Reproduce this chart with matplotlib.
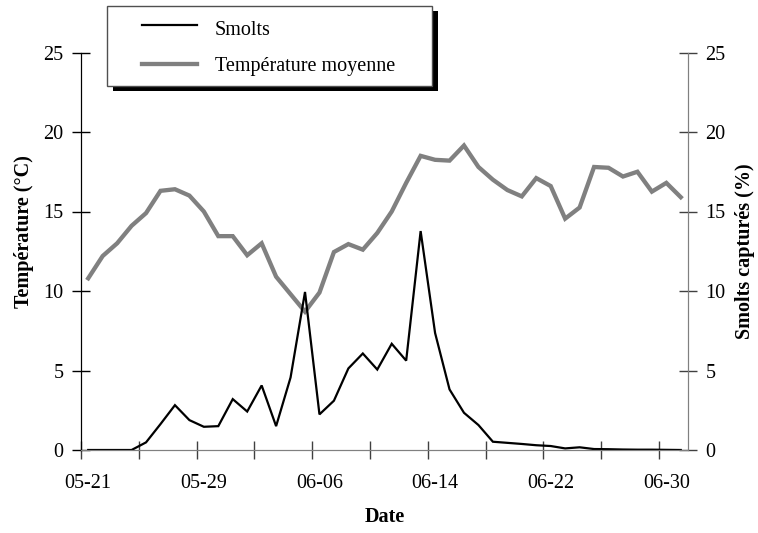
import numpy as np
import pandas as pd
import matplotlib
matplotlib.use('Agg')
import matplotlib.pyplot as plt
from matplotlib.patches import Rectangle
from matplotlib.lines import Line2D

W, H = 758, 533

# one value per day, 05-21 -> 07-01
days = pd.date_range('2000-05-21', '2000-07-01').strftime('%m-%d').tolist()

temperature = [10.8, 12.2, 13.0, 14.1, 14.9, 16.3, 16.4, 16.0, 15.0, 13.45,
               13.45, 12.25, 13.0, 10.9, 9.8, 8.7, 9.9, 12.45, 12.95, 12.6,
               13.65, 15.0, 16.8, 18.5, 18.25, 18.2, 19.15, 17.8, 17.0, 16.35,
               15.95, 17.1, 16.6, 14.55, 15.25, 17.8, 17.75, 17.2, 17.5, 16.25,
               16.8, 15.9]

smolts = [0.0, 0.0, 0.0, 0.0, 0.48, 1.63, 2.82, 1.88, 1.46, 1.5,
          3.2, 2.42, 4.06, 1.5, 4.56, 9.94, 2.24, 3.1, 5.13, 6.07,
          5.06, 6.68, 5.62, 13.77, 7.36, 3.81, 2.34, 1.57, 0.52, 0.45,
          0.38, 0.3, 0.25, 0.1, 0.17, 0.06, 0.05, 0.03, 0.02, 0.02,
          0.01, 0.0]

label_days = ['05-21', '05-29', '06-06', '06-14', '06-22', '06-30']

FONT = 'Liberation Serif'
FS = 14.5
GRAY = '#808080'


def fx(x):
    return x / W


def fy(y):
    return 1 - y / H


plt.rcParams['font.family'] = FONT
plt.rcParams['font.size'] = FS

fig = plt.figure(figsize=(W / 100, H / 100), dpi=100)
ax = fig.add_axes([fx(81), fy(450), (688 - 81) / W, (450 - 52.5) / H])
ax2 = ax.twinx()

x = np.arange(len(days)) + 0.5
ax.plot(x, temperature, color=GRAY, lw=3.1, solid_joinstyle='miter', zorder=2)
ax.plot(x, smolts, color='black', lw=1.6, solid_joinstyle='miter', zorder=3)

ax.set_xlim(0, len(days))
ax.set_ylim(0, 25)
ax2.set_ylim(0, 25)

# category boundaries every 4 days, labels every 8 days at day centres
ax.set_xticks(range(0, len(days), 4))
ax.set_xticklabels([])
ax.set_xticks([days.index(d) + 0.5 for d in label_days], minor=True)
ax.set_xticklabels(label_days, minor=True)
ax.tick_params(axis='x', which='major', direction='inout', length=13,
               width=1, color='#404040')
ax.tick_params(axis='x', which='minor', length=0, pad=17, labelsize=FS)

ax.set_yticks(range(0, 26, 5))
ax2.set_yticks(range(0, 26, 5))
ax.tick_params(axis='y', direction='inout', length=13, width=1, pad=6,
               labelsize=FS)
ax2.tick_params(axis='y', direction='inout', length=13, width=1, pad=6,
                labelsize=FS, color='#404040')

for a in (ax, ax2):
    a.spines['top'].set_visible(False)
    a.spines['bottom'].set_color(GRAY)
    a.spines['right'].set_color(GRAY)
    a.spines['left'].set_color('black')

fig.text(fx(24), fy(232), 'Température (°C)', rotation=90, ha='center',
         va='center', fontweight='bold', fontsize=FS)
fig.text(fx(745), fy(251), 'Smolts capturés (%)', rotation=90, ha='center',
         va='center', fontweight='bold', fontsize=FS)
fig.text(fx(384.5), fy(517), 'Date', ha='center', va='center',
         fontweight='bold', fontsize=FS)

# legend box with solid shadow
fig.patches.append(Rectangle((fx(112.7), fy(91)), (432 - 106.7) / W, 80 / H,
                             transform=fig.transFigure, facecolor='black',
                             edgecolor='black', lw=0))
fig.patches.append(Rectangle((fx(106.7), fy(86)), (432 - 106.7) / W, 80 / H,
                             transform=fig.transFigure, facecolor='white',
                             edgecolor='#505050', lw=1))
fig.lines.append(Line2D([fx(141.7), fx(196.7)], [fy(25), fy(25)],
                        transform=fig.transFigure, color='black', lw=1.6))
fig.lines.append(Line2D([fx(141.7), fx(196.7)], [fy(64), fy(64)],
                        transform=fig.transFigure, color=GRAY, lw=3.1))
fig.text(fx(215), fy(35), 'Smolts', ha='left', va='baseline', fontsize=FS)
fig.text(fx(215), fy(71), 'Température moyenne', ha='left', va='baseline',
         fontsize=FS)

fig.savefig('out.png', dpi=100)
